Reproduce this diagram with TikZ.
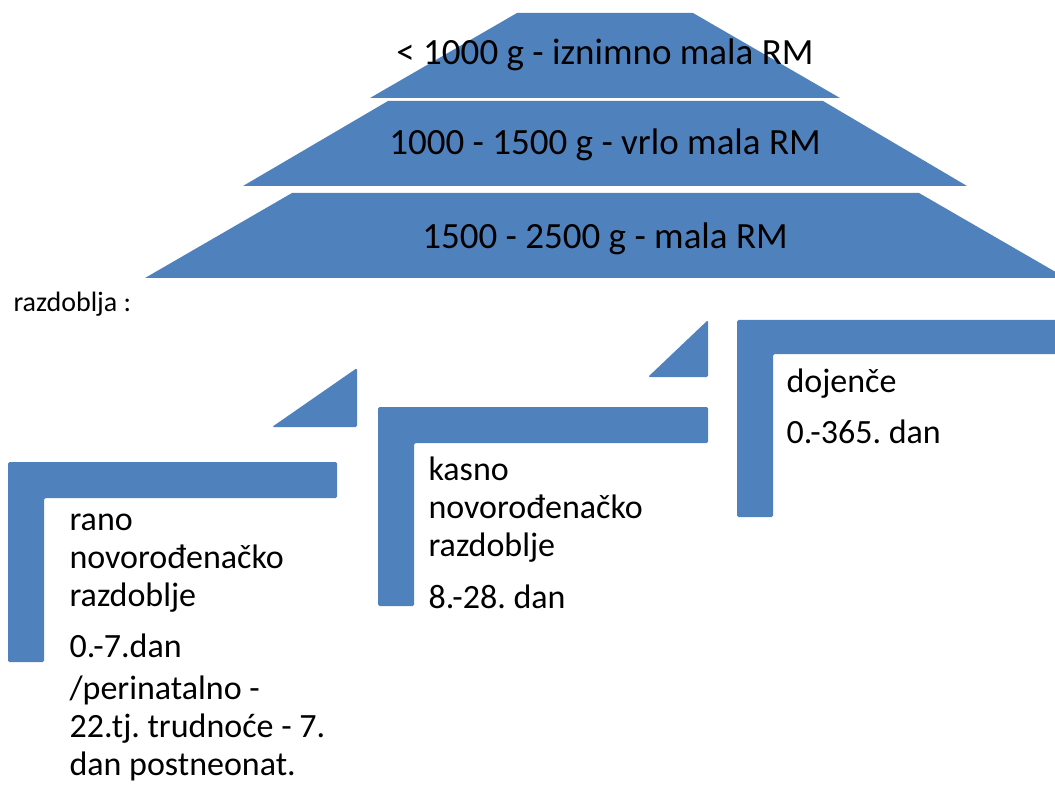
\documentclass[tikz,border=0pt]{standalone}
\usepackage{fontspec}
\setmainfont{Carlito}
\usepackage[usenames, table, x11names]{xcolor}
\usepackage{tikz}
\usetikzlibrary{calc}
\definecolor{stepblue}{HTML}{4F81BD}
\frenchspacing
\tikzset{
	weight/.style={anchor=base,font=\fontsize{37}{44}\selectfont},
	period/.style={anchor=base west,align=left,font=\fontsize{34}{38}\selectfont},
	piece/.style={fill=stepblue,rounded corners=1.5pt},
}

\begin{document}
\begin{tikzpicture}[line cap=round,line join=round,x=1pt,y=-1pt]
		\clip (0,0) rectangle (1055,794);
		% pyramid of weights
		\fill[stepblue] (517,13) -- (693,13) -- (840,98) -- (370,98) -- cycle;
		\fill[stepblue] (388,101) -- (823,101) -- (967,186) -- (243,186) -- cycle;
		\fill[stepblue] (292,193) -- (919,193) -- (1066,278) -- (145,278) -- cycle;
		\draw (605,65) node[weight] (w1) {< 1000 g - iznimno mala RM};
		\draw (605,155) node[weight] (w2) {1000 - 1500 g - vrlo mala RM};
		\draw (605,249) node[weight] (w3) {1500 - 2500 g - mala RM};
		\draw (10,312) node[anchor=base west,font=\fontsize{28}{32}\selectfont] (title) {razdoblja :};
		% steps
		\fill[piece] (8,462) -- (337,462) -- (337,498) -- (44,498) -- (44,662) -- (8,662) -- cycle;
		\fill[piece] (272,427) -- (357,368) -- (357,427) -- cycle;
		\fill[piece] (378,407) -- (708,407) -- (708,443) -- (414,443) -- (414,606) -- (378,606) -- cycle;
		\fill[piece] (648,377) -- (708,320) -- (708,377) -- cycle;
		\fill[piece] (737,320) -- (1070,320) -- (1070,354) -- (773,354) -- (773,517) -- (737,517) -- cycle;
		% texts of the steps (base = last line)
		\draw (66,606) node[period] (rano) {rano\\novorođenačko\\razdoblje};
		\draw (66,657) node[period] (ranodan) {0.-7.dan};
		\draw (66,775) node[period] (perinat) {/perinatalno -\\22.tj. trudnoće - 7.\\dan postneonat.};
		\draw (425,556) node[period] (kasno) {kasno\\novorođenačko\\razdoblje};
		\draw (425,608) node[period] (kasnodan) {8.-28. dan};
		\draw (783,392) node[period] (dojence) {dojenče};
		\draw (783,443) node[period] (dojencedan) {0.-365. dan};
		
		\end{tikzpicture}
\end{document}
